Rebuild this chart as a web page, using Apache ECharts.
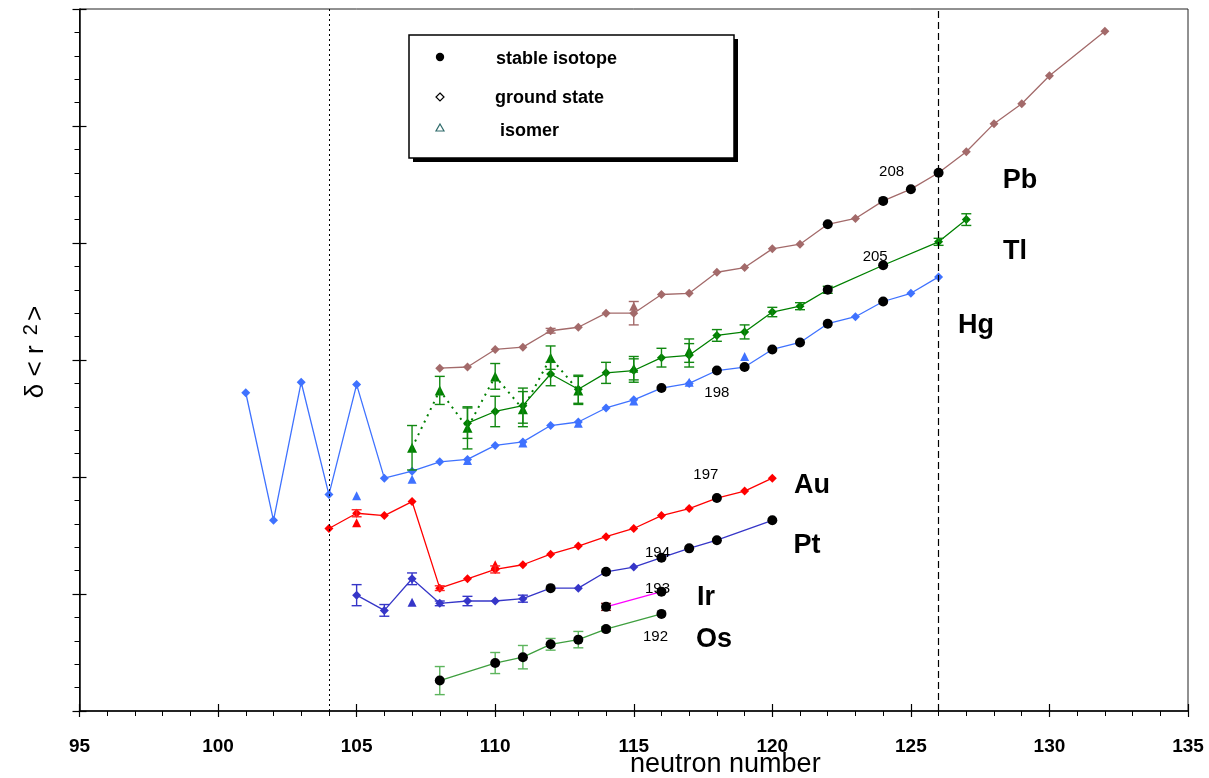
<!DOCTYPE html>
<html>
<head>
<meta charset="utf-8">
<script src="https://cdn.jsdelivr.net/npm/echarts@6/dist/echarts.min.js"></script>
<style>
  html, body { margin: 0; padding: 0; background: #fff; }
  #chart { width: 1209px; height: 778px; }
</style>
</head>
<body>
<div id="chart"></div>
<script>
// Changes in mean-square charge radius along isotope chains, Os .. Pb

// ---- Pb ----
const pbN = [108,109,110,111,112,113,114,115,116,117,118,119,120,121,122,123,124,125,126,127,128,129,130,132];
const pbR = [2.93,2.94,3.09,3.11,3.25,3.28,3.40,3.40,3.56,3.57,3.75,3.79,3.95,3.99,4.16,4.21,4.36,4.46,4.60,4.78,5.02,5.19,5.43,5.81];
const pbStable = [122,124,125,126];
const pbErrN = [112,115];
const pbErr = [0.02,0.10];
const pbIsoN = [115];
const pbIsoR = [3.46];

// ---- Tl ----
const tlN = [109,110,111,112,113,114,115,116,117,118,119,120,121,122,124,126,127];
const tlR = [2.46,2.56,2.61,2.88,2.75,2.89,2.91,3.02,3.04,3.21,3.24,3.41,3.46,3.60,3.81,4.01,4.20];
const tlStable = [122,124];
const tlErrN = [109,110,111,112,113,114,115,116,117,118,119,120,121,122,126,127];
const tlErr = [0.13,0.13,0.15,0.10,0.12,0.09,0.10,0.08,0.10,0.05,0.06,0.04,0.03,0.03,0.03,0.05];
const tlIsoN = [107,108,109,110,111,112,113,115,117];
const tlIsoR = [2.25,2.74,2.42,2.86,2.58,3.02,2.74,2.93,3.08];
const tlIsoErr = [0.19,0.12,0.18,0.11,0.15,0.10,0.12,0.10,0.10];
const tlIsoChain = [107,108,109,110,111,112,113];

// ---- Hg ----
const hgN = [101,102,103,104,105,106,107,108,109,110,111,112,113,114,115,116,117,118,119,120,121,122,123,124,125,126];
const hgR = [2.72,1.63,2.81,1.85,2.79,1.99,2.05,2.13,2.15,2.27,2.30,2.44,2.47,2.59,2.66,2.76,2.80,2.91,2.94,3.09,3.15,3.31,3.37,3.50,3.57,3.71];
const hgStable = [116,118,119,120,121,122,124];
const hgIsoN = [105,107,109,111,113,115,117,119];
const hgIsoR = [1.84,1.98,2.14,2.29,2.46,2.65,2.81,3.03];

// ---- Au ----
const auN = [104,105,106,107,108,109,110,111,112,113,114,115,116,117,118,119,120];
const auR = [1.56,1.69,1.67,1.79,1.05,1.13,1.21,1.25,1.34,1.41,1.49,1.56,1.67,1.73,1.82,1.88,1.99];
const auStable = [118];
const auErrN = [105,108,110];
const auErr = [0.03,0.02,0.03];
const auIsoN = [105,110];
const auIsoR = [1.61,1.25];

// ---- Pt ----
const ptN = [105,106,107,108,109,110,111,112,113,114,115,116,117,118,120];
const ptR = [0.99,0.86,1.13,0.92,0.94,0.94,0.96,1.05,1.05,1.19,1.23,1.31,1.39,1.46,1.63];
const ptStable = [112,114,116,117,118,120];
const ptErrN = [105,106,107,108,109,111];
const ptErr = [0.09,0.05,0.05,0.02,0.04,0.03];
const ptIsoN = [107];
const ptIsoR = [0.93];

// ---- Ir ----
const irN = [114,116];
const irR = [0.89,1.02];
const irStable = [114,116];
const irErrN = [114];
const irErr = [0.03];

// ---- Os ----
const osN = [108,110,111,112,113,114,116];
const osR = [0.26,0.41,0.46,0.57,0.61,0.70,0.83];
const osStable = [108,110,111,112,113,114,116];
const osErrN = [108,110,111,112,113,114];
const osErr = [0.12,0.09,0.10,0.05,0.07,0.02];

// mass numbers written next to selected stable isotopes
const massEl = ['Pb','Tl','Hg','Au','Pt','Ir','Os'];
const massN = [126,124,118,118,116,116,116];
const massA = ['208','205','198','197','194','193','192'];

// shell closures marked with vertical lines
const shellN = [104,126];

// ------------------------------------------------------------------
const colors = {
  Pb: '#a36a6a', Tl: '#008000', Hg: '#3f72ff', Au: '#ff0000',
  Pt: '#3636c8', Ir: '#ff00ff', Os: '#3f9f3f'
};
const errColors = {
  Pb: '#a36a6a', Tl: '#118811', Au: '#ff2020', Pt: '#3636c8', Ir: '#8a2020', Os: '#5db55d'
};
const massOffset = {
  Pb: [-47,-1], Tl: [-8,-8], Hg: [0,22], Au: [-11,-23], Pt: [-4,-5], Ir: [-4,-3], Os: [-6,23]
};

const chains = {
  Pb: [pbN, pbR, pbStable], Tl: [tlN, tlR, tlStable], Hg: [hgN, hgR, hgStable],
  Au: [auN, auR, auStable], Pt: [ptN, ptR, ptStable], Ir: [irN, irR, irStable],
  Os: [osN, osR, osStable]
};

function pts(N, R) { return N.map((n, i) => [n, R[i]]); }
function pick(N, R, sel) { return sel.map(n => [n, R[N.indexOf(n)]]); }
function errPts(N, R, eN, eV) { return eN.map((n, i) => [n, R[N.indexOf(n)], eV[i]]); }

function errorBars(name, data, color) {
  return {
    type: 'custom', name: name, data: data, z: 3, silent: true,
    encode: { x: 0, y: 1 },
    renderItem: function (params, api) {
      const x = api.value(0), y = api.value(1), e = api.value(2);
      const hi = api.coord([x, y + e]);
      const lo = api.coord([x, y - e]);
      const w = 5;
      const st = { stroke: color, lineWidth: 1.4 };
      return {
        type: 'group',
        children: [
          { type: 'line', shape: { x1: hi[0], y1: hi[1], x2: lo[0], y2: lo[1] }, style: st },
          { type: 'line', shape: { x1: hi[0] - w, y1: hi[1], x2: hi[0] + w, y2: hi[1] }, style: st },
          { type: 'line', shape: { x1: lo[0] - w, y1: lo[1], x2: lo[0] + w, y2: lo[1] }, style: st }
        ]
      };
    }
  };
}

const series = [];

// vertical lines at N = 104 and N = 126
series.push({
  type: 'line', data: [], silent: true,
  markLine: {
    silent: true, symbol: 'none', label: { show: false },
    data: [
      { xAxis: shellN[0], lineStyle: { color: '#000', width: 1, type: [2, 3] } },
      { xAxis: shellN[1], lineStyle: { color: '#000', width: 1.2, type: [7, 4] } }
    ]
  }
});

// ground-state chains
Object.keys(chains).forEach(el => {
  const [N, R] = chains[el];
  series.push({
    name: el, type: 'line', data: pts(N, R), z: 2,
    symbol: el === 'Os' || el === 'Ir' ? 'none' : 'diamond',
    symbolSize: 9,
    itemStyle: { color: colors[el], opacity: 1 },
    lineStyle: { color: colors[el], width: 1.3 },
    animation: false
  });
});

// Tl isomer chain (dotted)
series.push({
  type: 'line', data: pick(tlIsoN, tlIsoR, tlIsoChain), z: 2,
  symbol: 'triangle', symbolSize: 10,
  itemStyle: { color: colors.Tl, opacity: 1 },
  lineStyle: { color: colors.Tl, width: 2, type: [2, 5] },
  animation: false
});

// isolated isomer points
[
  ['Tl', pick(tlIsoN, tlIsoR, tlIsoN.filter(n => tlIsoChain.indexOf(n) < 0))],
  ['Hg', pts(hgIsoN, hgIsoR)],
  ['Au', pts(auIsoN, auIsoR)],
  ['Pt', pts(ptIsoN, ptIsoR)],
  ['Pb', pts(pbIsoN, pbIsoR)]
].forEach(([el, data]) => {
  series.push({
    type: 'scatter', data: data, z: 2, symbol: 'triangle', symbolSize: 9,
    itemStyle: { color: colors[el], opacity: 1 }, animation: false
  });
});

// error bars
series.push(errorBars('Pb', errPts(pbN, pbR, pbErrN, pbErr), errColors.Pb));
series.push(errorBars('Tl', errPts(tlN, tlR, tlErrN, tlErr), errColors.Tl));
series.push(errorBars('Tl*', errPts(tlIsoN, tlIsoR, tlIsoN, tlIsoErr), errColors.Tl));
series.push(errorBars('Au', errPts(auN, auR, auErrN, auErr), errColors.Au));
series.push(errorBars('Pt', errPts(ptN, ptR, ptErrN, ptErr), errColors.Pt));
series.push(errorBars('Ir', errPts(irN, irR, irErrN, irErr), errColors.Ir));
series.push(errorBars('Os', errPts(osN, osR, osErrN, osErr), errColors.Os));

const FONT = 'Liberation Sans, Arial, sans-serif';

// stable isotopes (black dots) with mass numbers
Object.keys(chains).forEach(el => {
  const [N, R, S] = chains[el];
  const data = S.map(n => {
    const item = { value: [n, R[N.indexOf(n)]] };
    massEl.forEach((m, k) => {
      if (m === el && massN[k] === n) {
        item.label = {
          show: true, formatter: massA[k], position: 'inside',
          offset: massOffset[el], color: '#000', opacity: 1,
          fontFamily: FONT, fontSize: 15
        };
      }
    });
    return item;
  });
  series.push({
    type: 'scatter', data: data, z: 4, symbol: 'circle', symbolSize: 10,
    itemStyle: { color: '#000', opacity: 1 }, animation: false
  });
});

const elementLabels = [
  ['Pb', 1020, 181], ['Tl', 1015, 252], ['Hg', 976, 326], ['Au', 812, 486],
  ['Pt', 807, 546], ['Ir', 706, 598], ['Os', 714, 640]
];

const graphic = [
  // legend box with shadow
  { type: 'rect', shape: { x: 413, y: 39, width: 325, height: 123 }, style: { fill: '#000' }, z: 10 },
  { type: 'rect', shape: { x: 409, y: 35, width: 325, height: 123 }, style: { fill: '#fff', stroke: '#000', lineWidth: 1.5 }, z: 11 },
  { type: 'circle', shape: { cx: 440, cy: 57, r: 4.2 }, style: { fill: '#000' }, z: 12 },
  { type: 'text', x: 496, y: 59, style: { text: 'stable isotope', font: 'bold 18px ' + FONT, fill: '#000', textVerticalAlign: 'middle' }, z: 12 },
  { type: 'polygon', shape: { points: [[440, 93], [444, 97], [440, 101], [436, 97]] }, style: { fill: '#fff', stroke: '#000', lineWidth: 1.2 }, z: 12 },
  { type: 'text', x: 495, y: 98, style: { text: 'ground state', font: 'bold 18px ' + FONT, fill: '#000', textVerticalAlign: 'middle' }, z: 12 },
  { type: 'polygon', shape: { points: [[440, 124], [444, 131], [436, 131]] }, style: { fill: '#fff', stroke: '#2f6b6b', lineWidth: 1.2 }, z: 12 },
  { type: 'text', x: 500, y: 131, style: { text: 'isomer', font: 'bold 18px ' + FONT, fill: '#000', textVerticalAlign: 'middle' }, z: 12 },
  // axis titles
  { type: 'text', x: 630, y: 765, style: { text: 'neutron number', font: '27px ' + FONT, fill: '#000', textVerticalAlign: 'middle' }, z: 12 },
  {
    type: 'text', x: 36, y: 352, rotation: Math.PI / 2, z: 12,
    style: {
      text: '{a|δ < r }{s|2}{a|>}', align: 'center', verticalAlign: 'middle',
      rich: {
        a: { fontFamily: FONT, fontSize: 26, fill: '#000', lineHeight: 30 },
        s: { fontFamily: FONT, fontSize: 20, fill: '#000', lineHeight: 30, verticalAlign: 'top', padding: [0, 3, 10, 3] }
      }
    }
  }
].concat(elementLabels.map(([t, x, y]) => ({
  type: 'text', x: x, y: y, z: 12,
  style: { text: t, font: 'bold 27px ' + FONT, fill: '#000', textAlign: 'center', textVerticalAlign: 'middle' }
})));

const chart = echarts.init(document.getElementById('chart'), null, { renderer: 'canvas' });
chart.setOption({
  animation: false,
  backgroundColor: '#fff',
  grid: { left: 79.5, right: 21, top: 9, bottom: 67, show: true, borderColor: '#222', borderWidth: 1 },
  xAxis: [
    {
      type: 'value', min: 95, max: 135, interval: 5,
      axisLine: { show: true, onZero: false, lineStyle: { color: '#000', width: 1.5 } },
      axisTick: { show: true, length: 6, inside: false, lineStyle: { color: '#000', width: 1.2 } },
      minorTick: { show: true, splitNumber: 5, length: 5, lineStyle: { color: '#000', width: 1 } },
      axisLabel: { color: '#000', fontFamily: FONT, fontWeight: 'bold', fontSize: 19, margin: 26 },
      splitLine: { show: false }, minorSplitLine: { show: false }
    },
    {
      type: 'value', min: 95, max: 135, interval: 5, position: 'bottom',
      axisLine: { show: false }, axisLabel: { show: false }, splitLine: { show: false },
      axisTick: { show: true, inside: true, length: 7, lineStyle: { color: '#000', width: 1.2 } }
    }
  ],
  yAxis: [
    {
      type: 'value', min: 0, max: 6, interval: 1,
      axisLine: { show: true, onZero: false, lineStyle: { color: '#000', width: 1.5 } },
      axisTick: { show: true, length: 7, inside: false, lineStyle: { color: '#000', width: 1.2 } },
      minorTick: { show: true, splitNumber: 5, length: 5, lineStyle: { color: '#000', width: 1 } },
      axisLabel: { show: false },
      splitLine: { show: false }, minorSplitLine: { show: false }
    },
    {
      type: 'value', min: 0, max: 6, interval: 1, position: 'left',
      axisLine: { show: false }, axisLabel: { show: false }, splitLine: { show: false },
      axisTick: { show: true, inside: true, length: 7, lineStyle: { color: '#000', width: 1.2 } }
    }
  ],
  series: series,
  graphic: graphic
});
</script>
</body>
</html>
